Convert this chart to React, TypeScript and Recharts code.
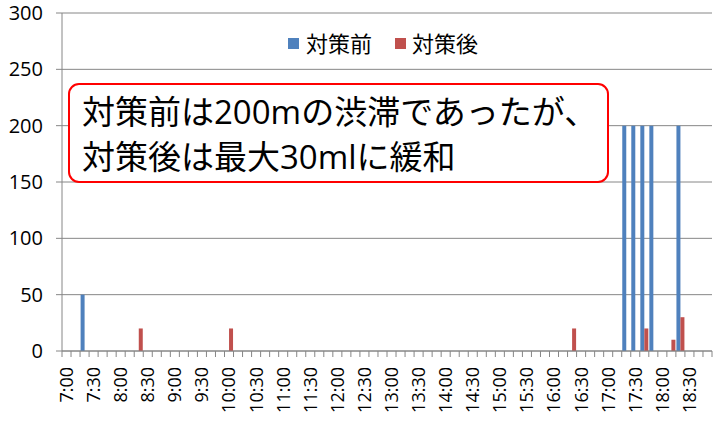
import { BarChart, Bar, XAxis, YAxis, CartesianGrid } from "recharts";

// 10-minute slots, 7:00 - 18:50
const times = [
  "7:00", "7:10", "7:20", "7:30", "7:40", "7:50",
  "8:00", "8:10", "8:20", "8:30", "8:40", "8:50",
  "9:00", "9:10", "9:20", "9:30", "9:40", "9:50",
  "10:00", "10:10", "10:20", "10:30", "10:40", "10:50",
  "11:00", "11:10", "11:20", "11:30", "11:40", "11:50",
  "12:00", "12:10", "12:20", "12:30", "12:40", "12:50",
  "13:00", "13:10", "13:20", "13:30", "13:40", "13:50",
  "14:00", "14:10", "14:20", "14:30", "14:40", "14:50",
  "15:00", "15:10", "15:20", "15:30", "15:40", "15:50",
  "16:00", "16:10", "16:20", "16:30", "16:40", "16:50",
  "17:00", "17:10", "17:20", "17:30", "17:40", "17:50",
  "18:00", "18:10", "18:20", "18:30", "18:40", "18:50",
];

// 渋滞長 (m)
const before = [
  0, 0, 50, 0, 0, 0,
  0, 0, 0, 0, 0, 0,
  0, 0, 0, 0, 0, 0,
  0, 0, 0, 0, 0, 0,
  0, 0, 0, 0, 0, 0,
  0, 0, 0, 0, 0, 0,
  0, 0, 0, 0, 0, 0,
  0, 0, 0, 0, 0, 0,
  0, 0, 0, 0, 0, 0,
  0, 0, 0, 0, 0, 0,
  0, 0, 200, 200, 200, 200,
  0, 0, 200, 0, 0, 0,
];

const after = [
  0, 0, 0, 0, 0, 0,
  0, 0, 20, 0, 0, 0,
  0, 0, 0, 0, 0, 0,
  20, 0, 0, 0, 0, 0,
  0, 0, 0, 0, 0, 0,
  0, 0, 0, 0, 0, 0,
  0, 0, 0, 0, 0, 0,
  0, 0, 0, 0, 0, 0,
  0, 0, 0, 0, 0, 0,
  0, 0, 20, 0, 0, 0,
  0, 0, 0, 0, 20, 0,
  0, 10, 30, 0, 0, 0,
];

const yTicks = [0, 50, 100, 150, 200, 250, 300];
const seriesNames = ["対策前", "対策後"];
const note = ["対策前は200mの渋滞であったが、", "対策後は最大30mlに緩和"];

const data = times.map((t, i) => ({ time: t, before: before[i], after: after[i] }));

const W = 719;
const H = 422;
const PLOT_LEFT = 62;
const PLOT_RIGHT = 712;
const band = (PLOT_RIGHT - PLOT_LEFT) / times.length;
const GRID = "#868686";
const BLUE = "#4F81BD";
const RED = "#C0504D";
const FONT = "'Open Sans', 'Noto Sans CJK JP', sans-serif";

function TimeTick(props: any) {
  const { x, y, payload } = props;
  const i = times.indexOf(payload.value);
  const left = x - band / 2;
  return (
    <g>
      <line x1={left} x2={left} y1={y} y2={y + 6} stroke={GRID} />
      {i === times.length - 1 && (
        <line x1={x + band / 2} x2={x + band / 2} y1={y} y2={y + 6} stroke={GRID} />
      )}
      {i % 3 === 0 && (
        <g transform={`translate(${x},${y + 16})`}>
          <text transform="rotate(-90)" textAnchor="end" dy="0.36em" fontSize={18} fill="#000" fontFamily={FONT}>
            {payload.value}
          </text>
        </g>
      )}
    </g>
  );
}

export default function App() {
  return (
    <div style={{ position: "absolute", left: 0, top: 0, width: W, height: H, background: "#fff", fontFamily: FONT }}>
      <BarChart
        width={W}
        height={H}
        data={data}
        margin={{ top: 13, right: W - PLOT_RIGHT, bottom: 0, left: 0 }}
        barCategoryGap="6%"
        barGap={0}
      >
        <CartesianGrid vertical={false} stroke={GRID} strokeWidth={1} />
        <XAxis
          dataKey="time"
          interval={0}
          height={71}
          stroke={GRID}
          tickLine={false}
          tickSize={0}
          tickMargin={0}
          tick={<TimeTick />}
        />
        <YAxis
          domain={[0, 300]}
          ticks={yTicks}
          width={PLOT_LEFT}
          stroke={GRID}
          tickSize={6}
          tickMargin={13}
          tick={{ fontSize: 20, fill: "#000", fontFamily: FONT }}
        />
        <Bar dataKey="before" name={seriesNames[0]} fill={BLUE} isAnimationActive={false} />
        <Bar dataKey="after" name={seriesNames[1]} fill={RED} isAnimationActive={false} />
      </BarChart>

      <div
        style={{
          position: "absolute",
          top: 29,
          left: 288,
          display: "flex",
          alignItems: "center",
          fontSize: 22,
          lineHeight: "28px",
          color: "#000",
          whiteSpace: "nowrap",
        }}
      >
        <span style={{ display: "inline-block", width: 11, height: 11, background: BLUE, marginRight: 7 }} />
        <span style={{ marginRight: 23 }}>{seriesNames[0]}</span>
        <span style={{ display: "inline-block", width: 11, height: 11, background: RED, marginRight: 6 }} />
        <span>{seriesNames[1]}</span>
      </div>

      <div
        style={{
          position: "absolute",
          left: 68,
          top: 83,
          width: 537,
          height: 96,
          border: "2px solid #FF0000",
          borderRadius: 11,
          background: "#fff",
          boxSizing: "content-box",
          padding: 0,
          fontSize: 33,
          lineHeight: "45px",
          color: "#000",
          whiteSpace: "nowrap",
        }}
      >
        <div style={{ paddingLeft: 12, paddingTop: 4 }}>
          {note.map((line) => (
            <div key={line}>{line}</div>
          ))}
        </div>
      </div>
    </div>
  );
}
